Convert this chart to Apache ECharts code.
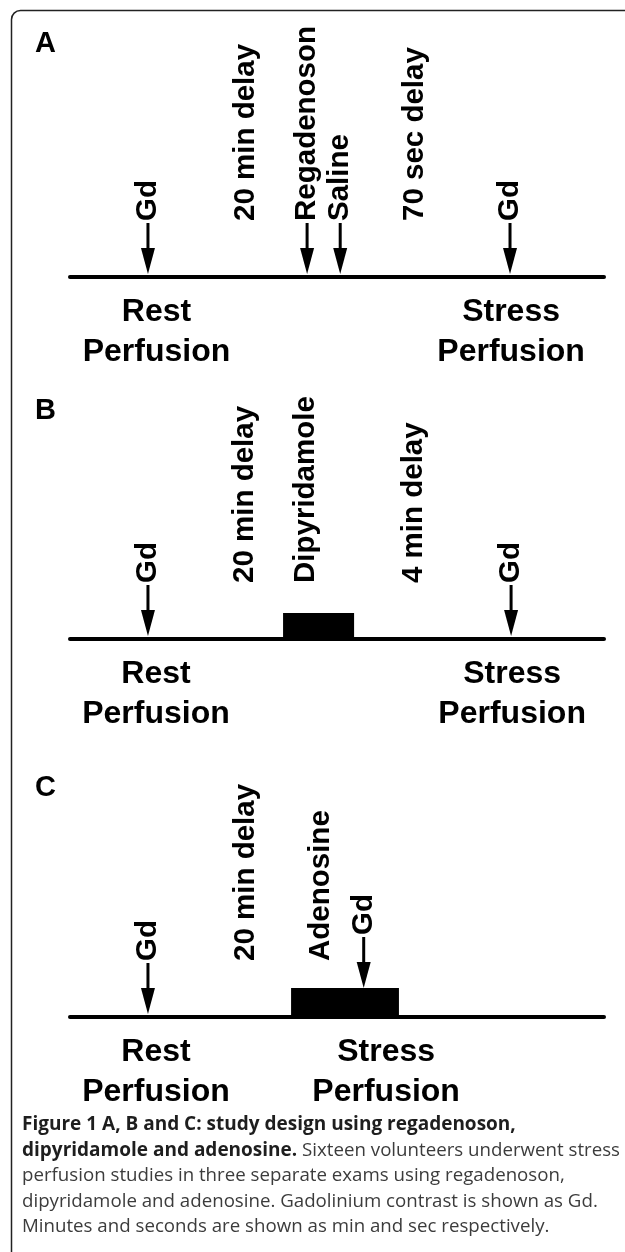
<!DOCTYPE html>
<html>
<head>
<meta charset="utf-8">
<script src="https://cdn.jsdelivr.net/npm/echarts@6/dist/echarts.min.js"></script>
<style>
html, body { margin: 0; padding: 0; background: #fff; }
#chart { width: 625px; height: 1252px; }
</style>
</head>
<body>
<div id="chart"></div>
<script>
// every timeline runs 0..100 (arbitrary protocol units)
const timelineExtent = [0, 100]
const phaseLabels = ['Rest\nPerfusion', 'Stress\nPerfusion']
const panelNames = ['A', 'B', 'C']

// A: regadenoson
const arrowNamesA = ['Gd', 'Regadenoson', 'Saline', 'Gd']
const arrowPosA = [14.6, 44.4, 50.6, 82.4]
const noteNamesA = ['20 min delay', '70 sec delay']
const notePosA = [33.0, 64.6]
const infusionA = []
const phasePosA = [16.2, 82.6]

// B: dipyridamole
const arrowNamesB = ['Gd', 'Gd']
const arrowPosB = [14.6, 82.6]
const noteNamesB = ['20 min delay', 'Dipyridamole', '4 min delay']
const notePosB = [32.8, 44.2, 64.4]
const infusionB = [39.9, 53.2]
const phasePosB = [16.1, 82.8]

// C: adenosine
const arrowNamesC = ['Gd', 'Gd']
const arrowPosC = [14.6, 55.0]
const noteNamesC = ['20 min delay', 'Adenosine']
const notePosC = [33.0, 47.0]
const infusionC = [41.4, 61.6]
const phasePosC = [16.1, 59.2]

const captionLines = [
  '{b|Figure 1 A, B and C: study design using regadenoson,}',
  '{b|dipyridamole and adenosine.} Sixteen volunteers underwent stress',
  'perfusion studies in three separate exams using regadenoson,',
  'dipyridamole and adenosine. Gadolinium contrast is shown as Gd.',
  'Minutes and seconds are shown as min and sec respectively.',
]

const panels = [
  { arrows: arrowNamesA, arrowPos: arrowPosA, notes: noteNamesA, notePos: notePosA, infusion: infusionA, phasePos: phasePosA },
  { arrows: arrowNamesB, arrowPos: arrowPosB, notes: noteNamesB, notePos: notePosB, infusion: infusionB, phasePos: phasePosB },
  { arrows: arrowNamesC, arrowPos: arrowPosC, notes: noteNamesC, notePos: notePosC, infusion: infusionC, phasePos: phasePosC },
]

// layout
const lineY = [277, 639, 1017]
const letterTop = [29, 396, 773]
const infusionH = [0, 26, 29]
const FONT = '"Liberation Sans", Arial, sans-serif'
const vFont = 'bold 29.5px ' + FONT
const hFont = 'bold 32px ' + FONT

function vText(x, y, text) {
  return {
    type: 'text', x, y, rotation: Math.PI / 2,
    style: { text, font: vFont, fill: '#000', align: 'left', textAlign: 'left', verticalAlign: 'middle', textVerticalAlign: 'middle' },
  }
}

const series = []
panels.forEach((panel, i) => {
  const axis = { xAxisIndex: i, yAxisIndex: i }
  series.push({
    type: 'line', ...axis, silent: true, symbol: 'none',
    data: timelineExtent.map(v => [v, 0]),
    lineStyle: { color: '#000', width: 4, cap: 'round' },
  })
  if (panel.infusion.length) {
    series.push({
      type: 'custom', ...axis, silent: true,
      data: [[panel.infusion[0], panel.infusion[1]]],
      renderItem: (params, api) => {
        const a = api.coord([api.value(0), 0])
        const b = api.coord([api.value(1), 0])
        return { type: 'rect', shape: { x: a[0], y: a[1] - infusionH[i], width: b[0] - a[0], height: infusionH[i] }, style: { fill: '#000' } }
      },
    })
  }
  series.push({
    type: 'custom', ...axis, silent: true,
    data: panel.arrowPos.map(v => [v, 0]),
    renderItem: (params, api) => {
      const x = api.value(0)
      const p = api.coord([x, 0])
      const inf = panel.infusion
      // arrow tip sits on the line, or on top of the infusion block
      let tip = p[1] - 3
      if (inf.length && x >= inf[0] && x <= inf[1]) tip = p[1] - infusionH[i]
      return {
        type: 'group',
        children: [
          { type: 'line', shape: { x1: p[0], y1: tip - 51, x2: p[0], y2: tip - 20 }, style: { stroke: '#000', lineWidth: 3 } },
          { type: 'polygon', shape: { points: [[p[0] - 7, tip - 26], [p[0] + 7, tip - 26], [p[0], tip]] }, style: { fill: '#000' } },
          vText(p[0], tip - 53, panel.arrows[params.dataIndex]),
        ],
      }
    },
  })
  series.push({
    type: 'custom', ...axis, silent: true,
    data: panel.notePos.map(v => [v, 0]),
    renderItem: (params, api) => {
      const p = api.coord([api.value(0), 0])
      return vText(p[0], p[1] - 56, panel.notes[params.dataIndex])
    },
  })
  series.push({
    type: 'custom', ...axis, silent: true,
    data: panel.phasePos.map(v => [v, 0]),
    renderItem: (params, api) => {
      const p = api.coord([api.value(0), 0])
      return {
        type: 'text', x: p[0], y: p[1] + 15,
        style: { text: phaseLabels[params.dataIndex], font: hFont, fill: '#000', lineHeight: 40, align: 'center', textAlign: 'center', verticalAlign: 'top', textVerticalAlign: 'top' },
      }
    },
  })
})

const chart = echarts.init(document.getElementById('chart'), null, { renderer: 'canvas' })
chart.setOption({
  animation: false,
  backgroundColor: '#fff',
  grid: lineY.map(y => ({ left: 70, right: 21, top: y - 100, height: 100 })),
  xAxis: lineY.map((y, i) => ({ type: 'value', gridIndex: i, min: timelineExtent[0], max: timelineExtent[1], show: false })),
  yAxis: lineY.map((y, i) => ({ type: 'value', gridIndex: i, min: 0, max: 1, show: false })),
  title: [
    ...panelNames.map((t, i) => ({
      text: t, left: 35, top: letterTop[i], padding: 0,
      textStyle: { fontFamily: FONT, fontSize: 29, fontWeight: 'bold', color: '#000', lineHeight: 29 },
    })),
    {
      text: captionLines.join('\n'), left: 22, top: 1112, padding: 0,
      textStyle: {
        fontFamily: '"Open Sans", sans-serif', fontSize: 18.7, fontWeight: 'normal', color: '#3c3c3c', lineHeight: 25.5,
        rich: { b: { fontFamily: '"Open Sans", sans-serif', fontSize: 19, fontWeight: 'bold', color: '#1e1e1e', lineHeight: 25.5 } },
      },
    },
  ],
  graphic: [{
    type: 'rect', left: 9, top: 8, silent: true,
    shape: { width: 660, height: 1300, r: 9 },
    style: { fill: 'none', stroke: '#222', lineWidth: 1.5 },
  }],
  series,
})
</script>
</body>
</html>
